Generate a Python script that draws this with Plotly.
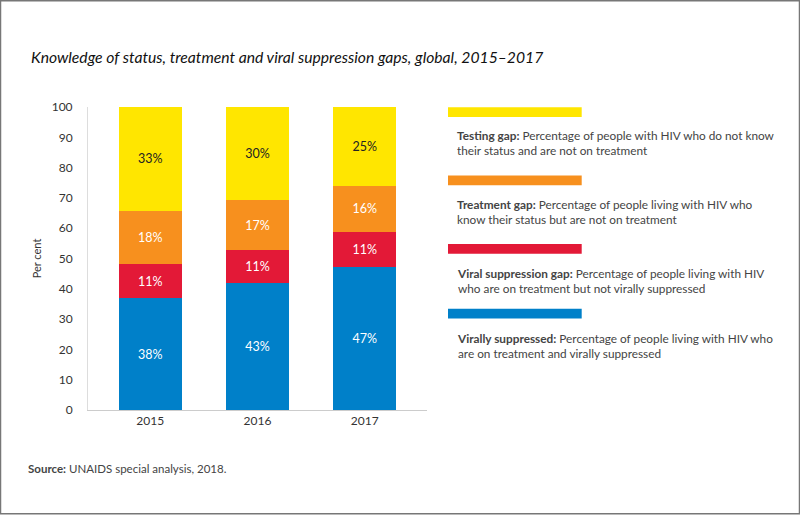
import plotly.graph_objects as go

years = ["2015", "2016", "2017"]
virally_suppressed = [36.9, 41.9, 47.2]
viral_suppression_gap = [11.2, 10.9, 11.5]
treatment_gap = [17.6, 16.5, 15.3]
testing_gap = [34.3, 30.7, 26.0]

label_virally = ["38%", "43%", "47%"]
label_vgap = ["11%", "11%", "11%"]
label_tgap = ["18%", "17%", "16%"]
label_testing = ["33%", "30%", "25%"]

series_names = ["Virally suppressed", "Viral suppression gap", "Treatment gap", "Testing gap"]
colors = ["#0080C9", "#E31937", "#F7901E", "#FFE600"]
text_colors = ["white", "white", "white", "#222222"]

legend_bold = ["Testing gap:", "Treatment gap:", "Viral suppression gap:", "Virally suppressed:"]
legend_rest = [
    " Percentage of people with HIV who do not know<br>their status and are not on treatment",
    " Percentage of people living with HIV who<br>know their status but are not on treatment",
    " Percentage of people living with HIV<br>who are on treatment but not virally suppressed",
    " Percentage of people living with HIV who<br>are on treatment and virally suppressed",
]
legend_colors = ["#FFE600", "#F7901E", "#E31937", "#0080C9"]

FONT = "Lato"

# plot-area geometry (pixels)
L, R, T, B = 88, 427, 107, 410.5
W_, H_ = 800, 515

def px(x):
    return (x - L) / (R - L)

def py(y):
    return (B - y) / (B - T)

fig = go.Figure()
values = [virally_suppressed, viral_suppression_gap, treatment_gap, testing_gap]
labels = [label_virally, label_vgap, label_tgap, label_testing]
for name, vals, lab, col, tc in zip(series_names, values, labels, colors, text_colors):
    fig.add_trace(go.Bar(
        x=years, y=vals, name=name, text=lab,
        textposition="inside", insidetextanchor="middle",
        textfont=dict(color=tc, size=12.5, family=FONT),
        marker=dict(color=col, line=dict(width=0)),
        width=0.586, showlegend=False, hoverinfo="skip",
    ))

shapes = []
annotations = []
swatch_tops = [107.3, 175.7, 244.3, 309]
text_centers = [143.5, 212.5, 281, 346]
for top, tc, col, bold, rest in zip(swatch_tops, text_centers, legend_colors, legend_bold, legend_rest):
    shapes.append(dict(type="rect", xref="paper", yref="paper",
                       x0=px(448), x1=px(581.7), y0=py(top + 9.8), y1=py(top),
                       fillcolor=col, line=dict(width=0)))
    annotations.append(dict(xref="paper", yref="paper", x=px(455), y=py(tc),
                            xanchor="left", yanchor="middle", align="left", showarrow=False,
                            text=f"<b>{bold}</b>{rest}",
                            font=dict(size=11.8, family=FONT, color="#444444")))

# title
annotations.append(dict(xref="paper", yref="paper", x=px(29), y=py(57), xanchor="left", yanchor="middle",
                        showarrow=False, text="<i>Knowledge of status, treatment and viral suppression gaps, global, 2015–2017</i>",
                        font=dict(size=15.7, family=FONT, color="#111111")))
# source
annotations.append(dict(xref="paper", yref="paper", x=px(26), y=py(469), xanchor="left", yanchor="middle",
                        showarrow=False, text="<b>Source:</b> UNAIDS special analysis, 2018.",
                        font=dict(size=11.5, family=FONT, color="#444444")))
# border
shapes.append(dict(type="rect", xref="paper", yref="paper",
                   x0=px(0.5), x1=px(799.5), y0=py(514.5), y1=py(0.5),
                   line=dict(color="#777777", width=1.5), fillcolor="rgba(0,0,0,0)"))

fig.update_layout(
    barmode="stack",
    width=W_, height=H_,
    margin=dict(l=L, r=W_ - R, t=T, b=H_ - B),
    plot_bgcolor="white", paper_bgcolor="white",
    font=dict(family=FONT, color="#444444"),
    shapes=shapes, annotations=annotations,
    xaxis=dict(range=[-0.58, 2.58], showline=True, linecolor="#cccccc", linewidth=1,
               ticks="", tickfont=dict(size=12, color="#333333"), showgrid=False, zeroline=False,
               fixedrange=True),
    yaxis=dict(range=[0, 100], dtick=10, showline=True, linecolor="#dddddd", linewidth=1,
               ticks="", ticklabelstandoff=12, tickfont=dict(size=12, color="#333333"),
               showgrid=False, zeroline=False,
               title=dict(text="Per cent", font=dict(size=11, color="#333333"), standoff=7)),
    uniformtext=dict(minsize=8, mode="show"),
)

fig.write_html("out.html")
